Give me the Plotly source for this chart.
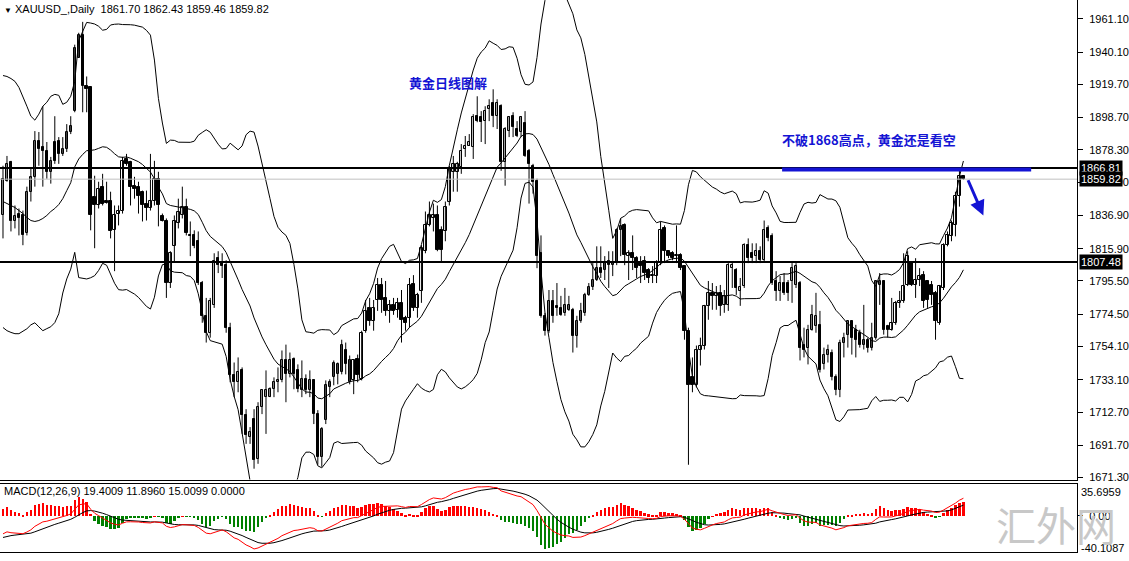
import numpy as np
import pandas as pd
import plotly.graph_objects as go

# ---------------- data (XAUUSD daily) ----------------
open_ = [1836.9,1858.8,1870.8,1833.1,1838.1,1836.9,1825.6,1851.9,1861.3,1883.9,
1880.2,1877.7,1864.5,1883.3,1883.9,1875.8,1878.9,1889.6,1902.8,1936.6,
1951.1,1918.4,1917.8,1848.8,1843.2,1855.1,1846.3,1846.3,1827.5,1838.1,
1840.0,1872.6,1870.8,1855.7,1855.1,1851.9,1844.4,1841.3,1846.3,1860.1,
1836.3,1833.1,1794.2,1817.4,1831.9,1836.9,1842.5,1824.3,1824.3,1820.6,
1794.2,1773.5,1762.8,1780.4,1809.9,1806.8,1805.5,1766.0,1735.9,1731.5,
1739.0,1710.8,1697.0,1708.3,1683.2,1715.8,1722.1,1722.1,1727.1,1731.5,
1732.7,1745.3,1736.5,1745.9,1739.0,1726.5,1733.4,1726.5,1732.7,1711.4,
1684.4,1707.6,1728.3,1734.6,1736.5,1737.7,1751.6,1731.5,1732.7,1745.9,
1733.4,1764.1,1778.5,1770.4,1783.5,1793.0,1784.8,1776.6,1780.4,1777.3,
1781.7,1772.3,1772.3,1793.6,1778.5,1789.2,1814.3,1830.6,1835.0,1836.9,
1827.5,1826.8,1845.7,1864.5,1864.5,1867.6,1878.9,1880.8,1880.2,1899.6,
1899.0,1896.5,1904.0,1907.8,1899.6,1905.9,1870.8,1890.2,1899.6,1891.5,
1889.6,1895.2,1877.7,1868.3,1858.8,1813.0,1773.5,1764.1,1782.9,1779.8,
1778.5,1775.4,1777.3,1777.3,1761.0,1770.4,1775.4,1786.7,1791.7,1796.1,
1803.6,1802.4,1808.0,1805.5,1806.8,1827.5,1830.6,1811.2,1813.0,1809.9,
1806.8,1808.0,1802.4,1798.6,1798.6,1806.8,1828.7,1814.3,1813.0,1811.2,
1811.8,1804.9,1764.1,1734.6,1729.6,1752.2,1754.7,1779.8,1788.0,1786.1,
1788.0,1780.4,1780.4,1803.6,1802.4,1789.2,1792.3,1818.1,1813.0,1811.2,
1814.3,1808.6,1828.7,1823.7,1795.5,1789.2,1794.2,1794.2,1795.5,1793.0,
1794.2,1755.3,1753.4,1764.7,1767.2,1767.8,1742.8,1749.0,1750.3,1734.6,
1726.5,1756.6,1761.6,1770.4,1764.7,1762.8,1755.3,1758.4,1753.4,1759.7,
1793.0,1795.5,1767.2,1764.7,1769.1,1781.7,1782.9,1793.0,1806.8,1793.0,
1796.1,1799.2,1795.5,1793.0,1788.0,1769.1,1791.1,1818.1,1823.7,1830.6,
1849.4,1861.70]

high = [1868.3,1874.5,1871.4,1843.2,1841.3,1840.0,1855.1,1866.4,1890.2,1889.6,
1905.9,1883.3,1873.9,1899.6,1886.4,1886.4,1894.6,1899.6,1944.8,1952.3,
1959.2,1924.7,1917.8,1862.0,1858.2,1863.2,1858.2,1851.9,1843.2,1843.2,
1873.9,1875.8,1871.4,1861.3,1858.2,1852.6,1852.6,1875.8,1871.4,1864.5,
1838.1,1835.0,1814.3,1836.9,1847.5,1855.1,1847.5,1833.1,1827.5,1826.8,
1795.5,1784.8,1784.8,1813.0,1814.3,1813.0,1808.6,1769.1,1744.0,1747.2,
1740.9,1714.5,1703.2,1714.5,1718.9,1727.1,1739.0,1728.3,1734.6,1740.9,
1751.6,1755.3,1750.3,1747.2,1742.8,1745.3,1736.5,1739.0,1733.4,1713.9,
1703.2,1732.7,1733.4,1745.3,1744.0,1758.4,1756.6,1748.4,1745.9,1749.0,
1764.1,1783.5,1784.8,1783.5,1797.4,1797.4,1795.5,1783.5,1784.8,1784.8,
1789.8,1773.5,1797.4,1799.2,1788.0,1818.1,1839.4,1845.7,1844.4,1843.2,
1830.0,1845.7,1868.3,1874.5,1870.8,1882.0,1887.1,1888.3,1900.9,1912.2,
1902.8,1905.9,1910.3,1916.6,1910.3,1907.1,1892.7,1899.6,1902.1,1896.5,
1899.6,1902.8,1878.9,1869.5,1860.1,1824.3,1775.4,1789.8,1789.8,1794.2,
1786.1,1791.1,1786.1,1778.5,1773.5,1781.7,1788.0,1794.2,1806.8,1817.4,
1817.4,1811.2,1814.3,1814.3,1828.7,1835.0,1831.9,1814.9,1824.3,1811.2,
1811.2,1811.2,1803.6,1804.9,1808.6,1833.1,1830.6,1814.9,1814.3,1830.6,
1813.0,1805.5,1766.0,1747.2,1754.7,1759.7,1780.4,1795.5,1794.2,1792.3,
1793.0,1789.8,1806.8,1808.0,1803.6,1797.4,1819.3,1822.4,1819.3,1819.3,
1817.4,1833.7,1830.6,1825.6,1801.7,1798.6,1800.5,1796.1,1806.8,1806.8,
1795.5,1766.0,1767.8,1780.4,1788.0,1776.6,1753.4,1755.3,1752.2,1736.5,
1758.4,1762.8,1770.4,1770.4,1767.8,1764.7,1780.4,1759.7,1769.1,1796.1,
1800.5,1796.1,1767.8,1784.8,1782.9,1789.2,1813.0,1814.3,1808.0,1809.9,
1803.6,1801.7,1796.1,1795.5,1789.2,1793.0,1819.3,1826.8,1833.7,1851.9,
1866.81,1862.43]

low = [1822.4,1858.2,1826.8,1828.7,1824.3,1818.1,1824.3,1845.7,1855.1,1868.3,
1855.1,1860.1,1857.0,1869.5,1869.5,1874.5,1877.0,1888.3,1902.1,1936.6,
1902.1,1902.1,1827.5,1816.2,1841.3,1843.2,1844.4,1822.4,1801.7,1830.6,
1838.1,1868.3,1843.2,1847.5,1838.1,1833.1,1833.7,1840.0,1843.2,1830.0,
1833.1,1784.8,1791.1,1808.0,1828.7,1835.0,1824.3,1811.2,1816.2,1793.0,
1769.1,1756.6,1759.7,1778.5,1800.5,1797.4,1762.8,1731.5,1722.1,1725.2,
1698.9,1692.6,1692.6,1676.9,1680.0,1711.4,1698.9,1722.1,1722.1,1725.2,
1731.5,1718.9,1734.6,1727.1,1725.2,1722.1,1724.0,1722.1,1705.1,1679.4,
1678.1,1705.1,1722.1,1729.6,1730.2,1736.5,1736.5,1730.2,1724.0,1731.5,
1732.7,1762.8,1767.2,1764.1,1776.6,1775.4,1773.5,1769.1,1774.1,1772.3,
1756.6,1764.1,1766.0,1776.6,1772.3,1781.7,1813.0,1830.0,1826.8,1814.3,
1808.0,1820.6,1843.2,1851.9,1851.9,1863.2,1873.9,1880.8,1872.6,1895.8,
1883.3,1882.0,1896.5,1892.7,1891.5,1865.1,1855.7,1886.4,1886.4,1886.4,
1886.4,1873.9,1844.4,1850.7,1803.6,1772.3,1761.0,1762.8,1769.1,1773.5,
1773.5,1773.5,1776.6,1750.3,1753.4,1769.1,1773.5,1786.1,1789.8,1795.5,
1797.4,1796.1,1791.1,1798.6,1805.5,1811.2,1805.5,1796.1,1802.4,1797.4,
1794.2,1796.1,1794.2,1794.2,1794.2,1805.5,1806.8,1809.9,1808.6,1806.8,
1802.4,1758.4,1679.4,1725.2,1728.3,1742.1,1752.2,1771.0,1777.3,1777.3,
1773.5,1775.4,1776.6,1791.1,1786.7,1779.8,1791.1,1806.8,1806.8,1806.8,
1806.8,1808.0,1820.6,1793.0,1782.9,1782.9,1786.7,1782.9,1781.7,1791.1,
1745.3,1747.2,1742.8,1764.1,1762.8,1737.7,1739.6,1744.0,1732.7,1723.3,
1722.1,1747.2,1753.4,1749.0,1747.2,1753.4,1752.2,1750.3,1751.6,1758.4,
1780.4,1761.6,1759.7,1764.1,1767.8,1778.5,1781.7,1792.3,1792.3,1784.8,
1792.3,1778.5,1778.5,1780.4,1758.4,1767.8,1789.8,1817.4,1820.6,1823.7,
1842.5,1859.46]

close = [1860.1,1869.5,1833.1,1836.3,1835.0,1824.3,1851.9,1861.3,1883.9,1878.9,
1877.7,1864.5,1871.4,1871.4,1875.8,1878.9,1889.6,1893.3,1942.9,1951.1,
1918.4,1916.6,1836.9,1843.2,1853.8,1844.4,1845.0,1826.8,1836.9,1840.0,
1871.4,1869.5,1855.1,1853.8,1849.4,1843.2,1841.3,1846.3,1860.1,1843.2,
1833.7,1794.2,1813.0,1833.1,1839.4,1842.5,1825.6,1823.7,1817.4,1794.2,
1773.5,1762.8,1782.9,1808.0,1805.5,1804.9,1766.0,1735.9,1731.5,1737.7,
1710.8,1698.2,1700.1,1682.5,1715.8,1726.5,1726.5,1727.1,1731.5,1732.7,
1745.3,1736.5,1745.3,1736.5,1727.1,1733.4,1726.5,1732.7,1711.4,1684.4,
1702.0,1729.6,1731.5,1743.4,1742.8,1755.3,1742.8,1745.3,1745.3,1735.9,
1762.8,1776.6,1770.4,1778.5,1793.0,1783.5,1776.6,1780.4,1776.6,1781.7,
1771.0,1769.1,1793.0,1778.5,1786.7,1816.2,1830.6,1836.9,1836.9,1814.9,
1814.9,1842.5,1866.4,1869.5,1869.5,1877.7,1880.8,1883.3,1899.0,1896.5,
1895.8,1902.8,1905.9,1899.6,1907.8,1870.8,1891.5,1899.0,1892.7,1887.1,
1899.0,1874.5,1869.5,1858.2,1811.2,1773.5,1764.1,1782.9,1773.5,1778.5,
1774.1,1780.4,1780.4,1761.0,1770.4,1776.6,1786.7,1791.7,1796.1,1803.6,
1800.5,1806.8,1805.5,1806.8,1827.5,1830.0,1811.8,1813.0,1809.9,1803.6,
1804.9,1800.5,1797.4,1799.2,1806.8,1827.5,1814.3,1811.2,1809.9,1811.8,
1803.6,1764.1,1729.6,1729.6,1752.2,1754.7,1779.8,1788.0,1786.1,1788.0,
1779.8,1786.1,1805.5,1805.5,1791.1,1791.7,1818.1,1809.9,1809.9,1814.3,
1808.6,1827.5,1822.4,1794.2,1789.2,1794.2,1788.0,1788.0,1803.6,1804.9,
1753.4,1752.2,1764.7,1774.1,1773.5,1739.0,1749.0,1752.2,1734.6,1726.5,
1756.6,1759.7,1770.4,1759.7,1758.4,1755.3,1758.4,1753.4,1759.7,1795.5,
1795.5,1764.7,1764.7,1769.1,1781.7,1782.9,1792.3,1811.2,1793.0,1796.1,
1798.6,1782.9,1783.5,1786.7,1770.4,1792.3,1818.1,1824.3,1831.9,1849.4,
1862.0,1859.82]

# Bollinger band values read for the first 19 bars (no earlier history visible)
bb_upper_head = [1925.3,1924.7,1923.4,1921.6,1917.8,1912.2,1905.9,1899.6,1897.1,1900.9,
                 1905.9,1908.4,1912.2,1913.4,1912.8,1907.1,1908.4,1912.2,1921.6]
bb_middle_head = [1845.7,1844.4,1843.2,1841.9,1840.0,1838.1,1835.6,1833.7,1833.1,1833.7,
                  1835.0,1836.9,1839.4,1841.3,1843.8,1847.5,1852.6,1857.6,1867.6]
bb_period = 20
bb_deviation = 2.4          # band width as it appears on the chart
# MACD state read at the first visible bar
macd_dif_start = -20.0
macd_dea_start = -24.0

level_lines = [1866.81, 1807.48]
bid_price = 1859.82
y_ticks = [1961.10, 1940.10, 1919.70, 1898.70, 1878.30, 1857.90, 1836.90, 1815.90,
           1795.50, 1774.50, 1754.10, 1733.10, 1712.70, 1691.70, 1671.30]
macd_max = 35.6959
macd_min = -40.1087
header = "XAUUSD_,Daily  1861.70 1862.43 1859.46 1859.82"
macd_label = "MACD(12,26,9) 19.4009 11.8960 15.0099 0.0000"

# ---------------- derived indicators ----------------
o = np.array(open_); h = np.array(high); l = np.array(low); c = np.array(close)
n = len(c)
idx = np.arange(n)

s = pd.Series(c)
mid = s.rolling(bb_period).mean().to_numpy()
sd = s.rolling(bb_period).std(ddof=0).to_numpy()
up = mid + bb_deviation * sd
lo = mid - bb_deviation * sd
k = len(bb_middle_head)
mid[:k] = bb_middle_head
up[:k] = bb_upper_head
lo[:k] = 2 * np.array(bb_middle_head) - np.array(bb_upper_head)

a12, a26, a9 = 2 / 13, 2 / 27, 2 / 10
e12 = c[0]
e26 = c[0] - macd_dif_start
dea = macd_dea_start
dif_l, dea_l = [], []
for i in range(n):
    if i > 0:
        e12 = a12 * c[i] + (1 - a12) * e12
        e26 = a26 * c[i] + (1 - a26) * e26
        d = e12 - e26
        dea = a9 * d + (1 - a9) * dea
    else:
        d = e12 - e26
    dif_l.append(d)
    dea_l.append(dea)
dif = np.array(dif_l)
deaa = np.array(dea_l)
hist = 2 * (dif - deaa)

# ---------------- figure ----------------
BLUE = "#1414d4"
fig = go.Figure()

# wicks
wx, wy = [], []
for i in range(n):
    wx += [i, i, None]
    wy += [l[i], h[i], None]
fig.add_trace(go.Scatter(x=wx, y=wy, mode="lines", line=dict(color="black", width=1),
                         hoverinfo="skip", showlegend=False, xaxis="x", yaxis="y"))
# bodies
bottoms = np.minimum(o, c)
heights = np.maximum(np.abs(c - o), 0.45)
colors = ["white" if c[i] >= o[i] else "black" for i in range(n)]
fig.add_trace(go.Bar(x=idx, y=heights, base=bottoms, width=0.6,
                     marker=dict(color=colors, line=dict(color="black", width=1)),
                     showlegend=False, xaxis="x", yaxis="y"))
# Bollinger bands
for arr in (up, mid, lo):
    fig.add_trace(go.Scatter(x=idx, y=arr, mode="lines", line=dict(color="black", width=1),
                             showlegend=False, xaxis="x", yaxis="y"))

# MACD
fig.add_trace(go.Bar(x=idx, y=hist, width=0.6,
                     marker=dict(color=["#ff0000" if v >= 0 else "#008000" for v in hist], line=dict(width=0)),
                     showlegend=False, xaxis="x2", yaxis="y2"))
fig.add_trace(go.Scatter(x=idx, y=deaa, mode="lines", line=dict(color="black", width=1),
                         showlegend=False, xaxis="x2", yaxis="y2"))
fig.add_trace(go.Scatter(x=idx, y=dif, mode="lines", line=dict(color="#ff0000", width=1),
                         showlegend=False, xaxis="x2", yaxis="y2"))

shapes = []
for lv in level_lines:
    shapes.append(dict(type="line", xref="paper", x0=0, x1=1, yref="y", y0=lv, y1=lv,
                       line=dict(color="black", width=2)))
shapes.append(dict(type="line", xref="paper", x0=0, x1=1, yref="y", y0=bid_price, y1=bid_price,
                   line=dict(color="#c0c0c0", width=1)))
shapes.append(dict(type="line", xref="x", x0=195.5, x1=258, yref="y", y0=1866.0, y1=1866.0,
                   line=dict(color=BLUE, width=4)))

font_num = "Tahoma, Liberation Sans, DejaVu Sans, sans-serif"
cjk = "Noto Sans CJK SC"
ann = []
ann.append(dict(xref="paper", yref="paper", x=0, y=1, xanchor="left", yanchor="top", xshift=2, yshift=-1,
                text='<span style="font-size:8px">▼</span> ' + header, showarrow=False,
                font=dict(family=font_num, size=11, color="black")))
ann.append(dict(xref="paper", yref="paper", x=0, y=(561 - 495) / 561, xanchor="left", yanchor="middle", xshift=2,
                text=macd_label, showarrow=False, font=dict(family=font_num, size=11, color="black")))
ann.append(dict(xref="x", yref="y", x=111.75, y=1920.9, text="<b>黄金日线图解</b>", showarrow=False,
                font=dict(family=cjk, size=13, color=BLUE)))
ann.append(dict(xref="x", yref="y", x=217.25, y=1884.6, text="<b>不破1868高点，黄金还是看空</b>", showarrow=False,
                font=dict(family=cjk, size=13, color=BLUE)))
ann.append(dict(xref="x", yref="y", x=246, y=1836.9, axref="x", ayref="y", ax=242, ay=1860.1,
                text="", showarrow=True, arrowhead=2, arrowsize=1, arrowwidth=3, arrowcolor=BLUE))
for lv in (level_lines[0], bid_price, level_lines[1]):
    ann.append(dict(xref="paper", yref="y", x=1, y=lv, xanchor="left", yanchor="middle", xshift=2,
                    text=f"{lv:.2f}", showarrow=False, bgcolor="black", borderpad=1,
                    font=dict(family=font_num, size=11, color="white")))
ann.append(dict(xref="paper", yref="y2", x=1, y=macd_max, xanchor="left", yanchor="top", xshift=2,
                text=f"{macd_max:.4f}", showarrow=False, font=dict(family=font_num, size=11, color="black")))
ann.append(dict(xref="paper", yref="y2", x=1, y=macd_min, xanchor="left", yanchor="bottom", xshift=2, yshift=-4,
                text=f"{macd_min:.4f}", showarrow=False, font=dict(family=font_num, size=11, color="black")))
ann.append(dict(xref="paper", yref="paper", x=1060 / 1081, y=(561 - 528) / 561, xanchor="center", yanchor="middle",
                text="汇外网", showarrow=False, font=dict(family=cjk, size=40, color="#c8c8c8")))

px_per_bar = 4.0
x_range = [-3 / px_per_bar, (1081 - 3) / px_per_bar]
main_top_price = 1961.10 + 19 * (1961.10 - 1671.30) / 462
main_bot_price = 1671.30 - 2 * (1961.10 - 1671.30) / 462

fig.update_layout(
    width=1129, height=561,
    margin=dict(l=0, r=48, t=0, b=0),
    paper_bgcolor="white", plot_bgcolor="white",
    barmode="overlay", bargap=0, showlegend=False,
    shapes=shapes, annotations=ann,
    xaxis=dict(domain=[0, 1], range=x_range, anchor="y", showticklabels=False, showgrid=False,
               zeroline=False, showline=True, linecolor="black", linewidth=1, ticks=""),
    xaxis2=dict(domain=[0, 1], range=x_range, anchor="y2", matches="x", showticklabels=False,
                showgrid=False, zeroline=False, showline=True, mirror=True, linecolor="black",
                linewidth=1, ticks=""),
    yaxis=dict(domain=[(561 - 483) / 561, 1], range=[main_bot_price, main_top_price], side="right",
               anchor="x", showgrid=False, zeroline=False, showline=True, linecolor="black", linewidth=1,
               tickvals=y_ticks, ticktext=[f"{v:.2f}" for v in y_ticks], ticks="outside", ticklen=5,
               tickcolor="black", ticklabelstandoff=4,
               tickfont=dict(family=font_num, size=11, color="black")),
    yaxis2=dict(domain=[(561 - 556) / 561, (561 - 487) / 561], range=[macd_min, macd_max], side="right",
                anchor="x2", showgrid=False, zeroline=False, showline=True, linecolor="black", linewidth=1,
                tickvals=[0], ticktext=["0.00"], ticks="outside", ticklen=5, tickcolor="black",
                ticklabelstandoff=4, tickfont=dict(family=font_num, size=11, color="black")),
)

fig.write_html("out.html",
               config={"displayModeBar": False},
               post_script="document.body.style.margin='0';document.body.style.padding='0';"
                           "document.documentElement.style.overflow='hidden';")
